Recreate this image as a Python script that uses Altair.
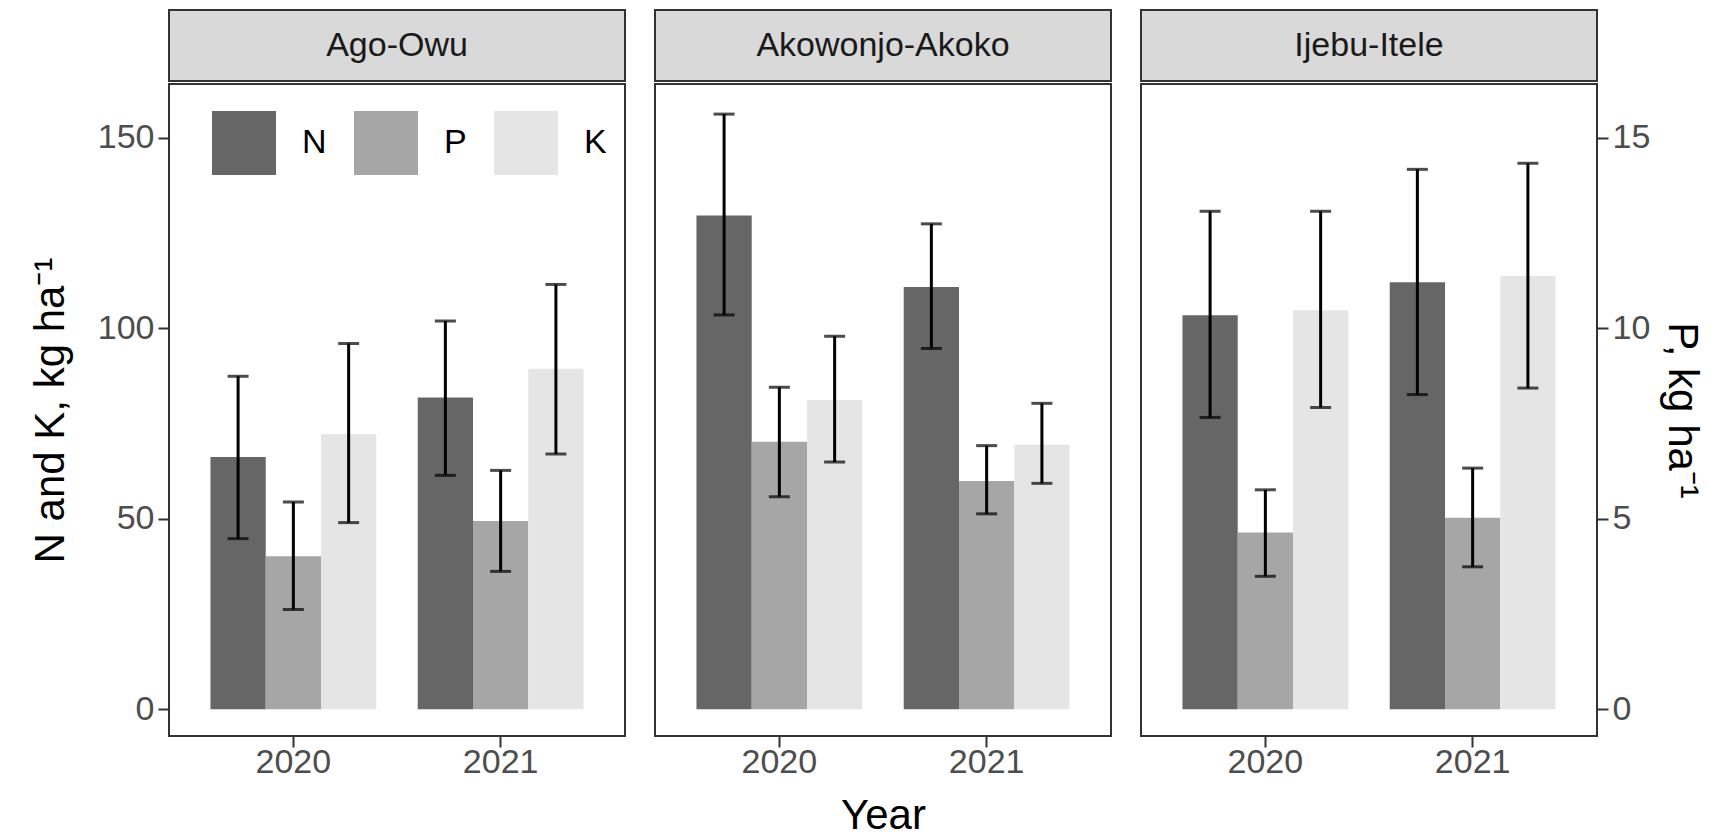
import altair as alt
import pandas as pd

sites = ["Ago-Owu", "Akowonjo-Akoko", "Ijebu-Itele"]
years = ["2020", "2021"]
nutrients = ["N", "P", "K"]
fill_colors = ["#666666", "#A6A6A6", "#E5E5E5"]

# order: site -> year -> nutrient (N, P, K); P in its own units (right axis)
means = [66.2, 4.02, 72.2, 81.8, 4.94, 89.4,
         129.6, 7.02, 81.2, 110.8, 5.99, 69.4,
         103.4, 4.64, 104.7, 112.1, 5.03, 113.7]
lows = [44.8, 2.62, 49.0, 61.4, 3.62, 67.0,
        103.5, 5.58, 64.9, 94.7, 5.13, 59.3,
        76.6, 3.49, 79.2, 82.6, 3.74, 84.3]
highs = [87.4, 5.44, 96.0, 101.9, 6.27, 111.5,
         156.2, 8.45, 97.9, 127.4, 6.92, 80.3,
         130.7, 5.76, 130.7, 141.7, 6.33, 143.3]

site_col = [s for s in sites for _ in years for _ in nutrients]
year_col = [y for _ in sites for y in years for _ in nutrients]
nut_col = [n for _ in sites for _ in years for n in nutrients]

df = pd.DataFrame({"site": site_col, "year": year_col, "nutrient": nut_col,
                   "mean": means, "lo": lows, "hi": highs})

FONT = "Liberation Sans"
PW, PH, SH = 456, 652, 71
TICK_FS = 34
TITLE_FS = 42

ysc = alt.Scale(domain=[-7.0, 164.1], nice=False, zero=False)


def y_axis(i):
    common = dict(values=[0, 50, 100, 150], domain=False, grid=False,
                  tickSize=11, tickWidth=2, tickColor="#333333",
                  labelFontSize=TICK_FS, labelColor="#4D4D4D", labelFont=FONT,
                  labelPadding=4, titleFontSize=TITLE_FS, titleFont=FONT,
                  titleFontWeight="normal", titleColor="black")
    if i == 0:
        return alt.Axis(orient="left", title="N and K, kg ha⁻¹", titlePadding=25, **common)
    if i == 2:
        return alt.Axis(orient="right", title="P, kg ha⁻¹", titlePadding=10,
                        labelExpr="datum.value / 10", **common)
    return None


def panel(i, site):
    base = alt.Chart(df).transform_filter(
        alt.datum.site == site
    ).transform_calculate(
        f="datum.nutrient == 'P' ? 10 : 1"
    ).transform_calculate(
        pm="datum.mean * datum.f", pl="datum.lo * datum.f", ph="datum.hi * datum.f"
    )
    x = alt.X("year:N", scale=alt.Scale(paddingInner=0.2, paddingOuter=0.2),
              axis=alt.Axis(title="Year" if i == 1 else None, labelAngle=0, domain=False,
                            tickSize=11, tickWidth=2, tickColor="#333333",
                            labelFontSize=TICK_FS, labelColor="#4D4D4D", labelFont=FONT,
                            labelPadding=-2, titleFontSize=TITLE_FS, titleFont=FONT,
                            titleFontWeight="normal", titleColor="black", titlePadding=16))
    xo = alt.XOffset("nutrient:N", sort=nutrients,
                     scale=alt.Scale(domain=nutrients, paddingInner=0, paddingOuter=0))
    ax = y_axis(i)
    legend = None
    if i == 0:
        legend = alt.Legend(orient="none", legendX=43, legendY=101, direction="horizontal",
                            title=None, symbolType="square", symbolSize=4096,
                            symbolStrokeWidth=0, symbolOpacity=1, labelFontSize=TICK_FS,
                            labelFont=FONT, labelColor="black", labelOffset=26,
                            columnPadding=27, padding=0)
    bars = base.mark_bar().encode(
        x=x, xOffset=xo,
        y=alt.Y("pm:Q", scale=ysc, axis=ax),
        color=alt.Color("nutrient:N", sort=nutrients,
                        scale=alt.Scale(domain=nutrients, range=fill_colors), legend=legend),
    )
    rules = base.mark_rule(color="black", strokeWidth=3).encode(
        x=x, xOffset=xo, y=alt.Y("pl:Q", scale=ysc, axis=ax), y2="ph:Q")
    cap_lo = base.mark_tick(color="black", thickness=3, size=21).encode(
        x=x, xOffset=xo, y=alt.Y("pl:Q", scale=ysc, axis=ax))
    cap_hi = base.mark_tick(color="black", thickness=3, size=21).encode(
        x=x, xOffset=xo, y=alt.Y("ph:Q", scale=ysc, axis=ax))
    return alt.layer(bars, rules, cap_lo, cap_hi).properties(width=PW, height=PH)


def strip(site):
    sdf = pd.DataFrame({"site": [site]})
    rect = alt.Chart(sdf).mark_rect(fill="#D9D9D9", stroke="#333333", strokeWidth=2).encode(
        x=alt.value(0), x2=alt.value(PW), y=alt.value(0), y2=alt.value(SH))
    txt = alt.Chart(sdf).mark_text(fontSize=TICK_FS, font=FONT, color="#1A1A1A").encode(
        x=alt.value(PW / 2), y=alt.value(SH / 2), text="site:N")
    return alt.layer(rect, txt).properties(width=PW, height=SH)


cols = [alt.vconcat(strip(s), panel(i, s), spacing=0) for i, s in enumerate(sites)]

chart = alt.hconcat(*cols, spacing=26).resolve_scale(color="independent").properties(
    padding={"left": 20, "top": 0, "right": 8, "bottom": 0}
).configure(font=FONT).configure_view(stroke="#333333", strokeWidth=2)

chart.save("out.html", embed_options={"renderer": "svg", "actions": False})
